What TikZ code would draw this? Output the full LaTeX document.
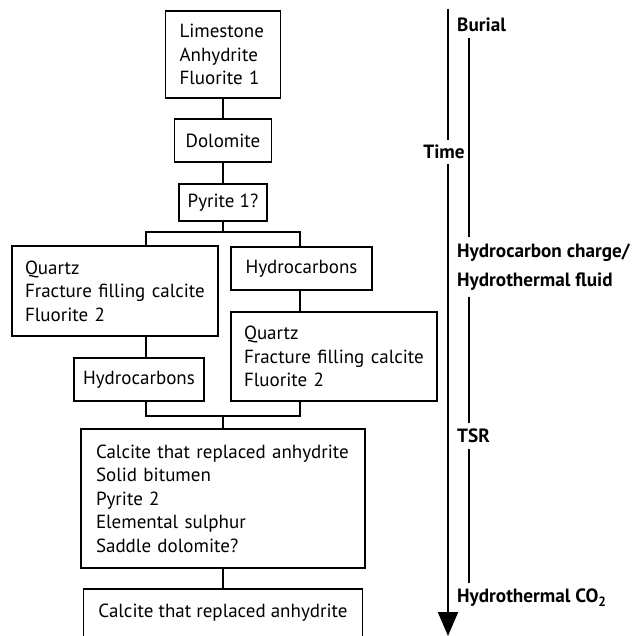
\documentclass[tikz,border=0pt]{standalone}
\usepackage{fontspec}
\setmainfont{PT Sans}
\usetikzlibrary{arrows.meta}
\def \boxfont {\fontsize{19}{23.5}\selectfont}
\def \phasefont {\fontsize{19.2}{29}\selectfont\bfseries}

\begin{document}
\begin{tikzpicture}[x=1pt,y=-1pt,
      box/.style={draw,line width=1.3pt,inner sep=0pt,font=\boxfont},
      lbox/.style={box,align=left,inner xsep=14pt},
      link/.style={line width=1.6pt},
      rail/.style={line width=1.5pt},
      phase/.style={anchor=west,inner xsep=0pt,inner ysep=6pt,align=left,font=\phasefont}]
      \clip (0,0) rectangle (636,636);
      \node[lbox,text width=87pt,minimum height=87pt] (lime) at (223,54.5)
        {Limestone\\Anhydrite\\Fluorite 1};
      \node[box,minimum width=97pt,minimum height=43pt] (dolo) at (223,140.5) {Dolomite};
      \node[box,minimum width=88pt,minimum height=37pt] (pyr1) at (223,202.5) {Pyrite 1?};
      \node[lbox,inner xsep=13pt,text width=180pt,minimum height=90pt] (qtzL) at (115,291)
        {Quartz\\Fracture filling calcite\\Fluorite 2};
      \node[box,minimum width=141pt,minimum height=43pt] (hcR) at (301.5,268.5) {Hydrocarbons};
      \node[lbox,inner xsep=13pt,text width=180pt,minimum height=89pt] (qtzR) at (334,356.5)
        {Quartz\\Fracture filling calcite\\Fluorite 2};
      \node[box,minimum width=130pt,minimum height=43pt] (hcL) at (139,379.5) {Hydrocarbons};
      \node[lbox,inner xsep=15pt,text width=254pt,minimum height=139pt] (tsr) at (223,498.5)
        {Calcite that replaced anhydrite\\Solid bitumen\\Pyrite 2\\Elemental sulphur\\Saddle dolomite?};
      \node[box,minimum width=279pt,minimum height=48pt] (last) at (223,613)
        {Calcite that replaced anhydrite};
      \coordinate (split) at (223,232);
      \coordinate (sL) at (146,232);
      \coordinate (sR) at (300,232);
      \coordinate (join) at (223,416);
      \coordinate (jL) at (146,416);
      \coordinate (jR) at (300,416);
      \draw[link] (lime) -- (dolo);
      \draw[link] (dolo) -- (pyr1);
      \draw[link] (pyr1) -- (split);
      \draw[link] (qtzL.north -| sL) -- (sL) -- (sR) -- (hcR.north -| sR);
      \draw[link] (qtzL.south -| sL) -- (hcL.north -| sL);
      \draw[link] (hcR.south -| sR) -- (qtzR.north -| sR);
      \draw[link] (hcL.south -| jL) -- (jL) -- (jR) -- (qtzR.south -| jR);
      \draw[link] (join) -- (tsr);
      \draw[link] (tsr) -- (last);
      \node[font=\phasefont,inner xsep=0pt,inner ysep=5pt] (time) at (444,152) {Time};
      \coordinate (ttop) at (448,9);
      \coordinate (tend) at (448,636);
      \draw[line width=2pt] (ttop) -- (time.north -| ttop);
      \draw[line width=2pt,-{Triangle[width=20pt,length=24pt]}] (time.south -| ttop) -- (tend);
      \node[phase] (burial) at (457,25) {Burial};
      \node[phase] (fluid) at (457,267) {Hydrocarbon charge/\\Hydrothermal fluid};
      \node[phase] (tsrlab) at (457,436) {TSR};
      \node[phase] (co2) at (457,598) {Hydrothermal CO\textsubscript{2}};
      \coordinate (rail) at (469,0);
      \draw[rail] (burial.south -| rail) -- (fluid.north -| rail);
      \draw[rail] (fluid.south -| rail) -- (tsrlab.north -| rail);
      \draw[rail] (tsrlab.south -| rail) -- (co2.north -| rail);
    \end{tikzpicture}
\end{document}
